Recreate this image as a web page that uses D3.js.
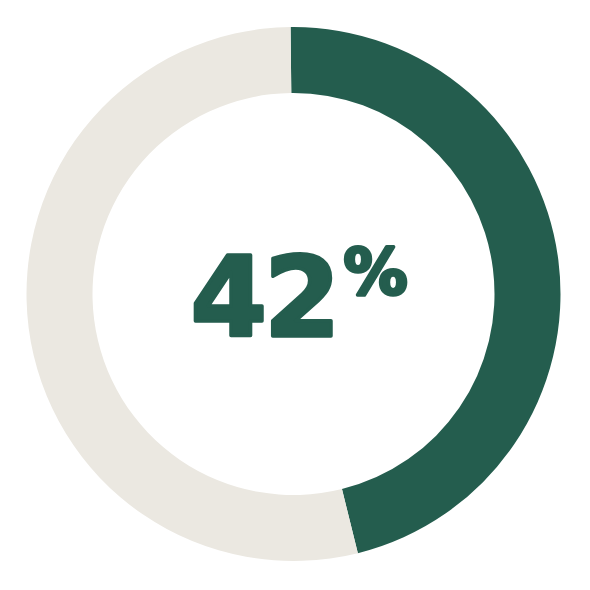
<!DOCTYPE html>
<html>
<head>
<meta charset="utf-8">
<script src="https://cdn.jsdelivr.net/npm/d3@7"></script>
<style>
  body { margin: 0; background: #fff; }
</style>
</head>
<body>
<div id="chart"></div>
<script>
// data
var labels = ["Yes", "Other"];
var values = [46.3, 53.7];
var colors = ["#245d4e", "#ebe8e1"];
var centerNumber = "42";
var centerUnit = "%";

var width = 590, height = 590;
var cx = 293.5, cy = 294,
    outerR = 267, innerR = 201;

var svg = d3.select("#chart")
  .append("svg")
    .attr("width", width)
    .attr("height", height)
  .append("g")
    .attr("transform", "translate(" + cx + "," + cy + ")");

// ring is turned back a hair from 12 o'clock in the original
var rot = -0.011;
var pie = d3.pie().sort(null)
    .startAngle(rot)
    .endAngle(2 * Math.PI + rot)
    .value(function (d) { return d; });
var arc = d3.arc().innerRadius(innerR).outerRadius(outerR);

var color = d3.scaleOrdinal().domain(labels).range(colors);

svg.selectAll("path")
  .data(pie(values))
  .enter()
  .append("path")
    .attr("d", arc)
    .attr("fill", function (d, i) { return color(labels[i]); });

// center label
var label = svg.append("text")
    .attr("font-family", "DejaVu Sans")
    .attr("font-weight", "bold")
    .attr("fill", colors[0])
    .attr("stroke", colors[0])
    .attr("stroke-width", 3.5)
    .attr("stroke-linejoin", "round");

label.append("tspan")
    .attr("x", -103)
    .attr("y", 42)
    .attr("font-size", 110)
    .attr("letter-spacing", -3)
    .text(centerNumber);

label.append("tspan")
    .attr("x", 50)
    .attr("y", 0)
    .attr("font-size", 64)
    .text(centerUnit);
</script>
</body>
</html>
